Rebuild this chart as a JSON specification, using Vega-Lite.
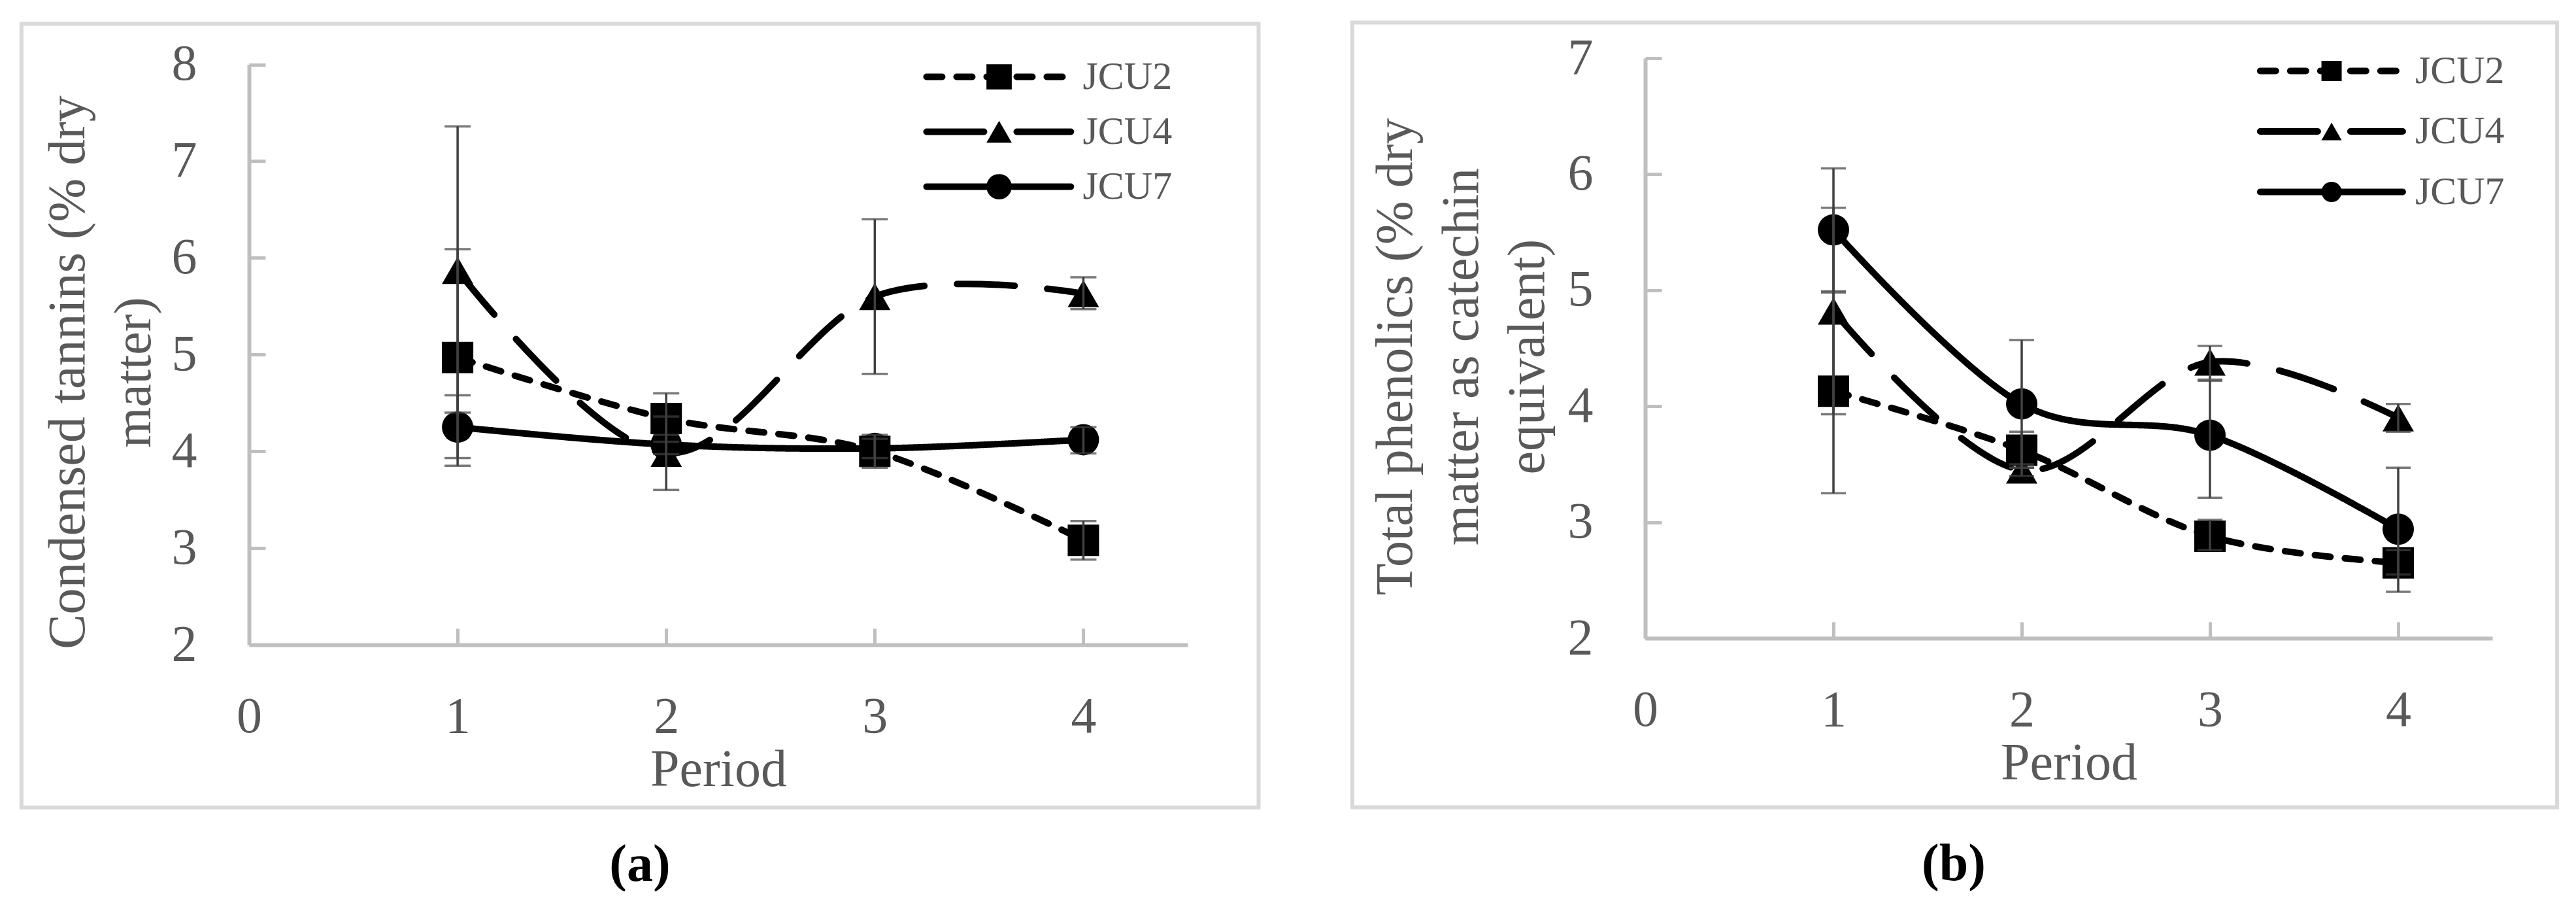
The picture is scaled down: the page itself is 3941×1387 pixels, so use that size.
{
  "$schema": "https://vega.github.io/schema/vega-lite/v6.json",
  "background": "white",
  "padding": {"left": 29, "top": 31, "right": 0, "bottom": 0},
  "spacing": 136,
  "config": {
    "view": {"stroke": null},
    "axis": {
      "grid": false,
      "domainColor": "#bfbfbf",
      "domainWidth": 6,
      "tickColor": "#bfbfbf",
      "tickWidth": 5,
      "tickSize": -25,
      "labelFont": "Liberation Serif",
      "labelFontSize": 78,
      "labelColor": "#595959",
      "labelFlush": false,
      "labelOverlap": false,
      "titleFont": "Liberation Serif",
      "titleFontSize": 80,
      "titleFontWeight": "normal",
      "titleColor": "#595959",
      "titleLineHeight": 101
    },
    "axisX": {"labelPadding": 96, "titlePadding": 3},
    "axisY": {"labelPadding": 105, "titlePadding": 17},
    "title": {"font": "Liberation Serif", "fontSize": 80, "fontWeight": "bold", "color": "black", "orient": "bottom", "offset": 46, "anchor": "middle", "frame": "group"}
  },
  "datasets": {
    "tannins": [
      {"series": "JCU2", "period": 1, "value": 4.97, "lo": 3.85, "hi": 6.09},
      {"series": "JCU2", "period": 2, "value": 4.34, "lo": 4.10, "hi": 4.60},
      {"series": "JCU2", "period": 3, "value": 4.00, "lo": 3.83, "hi": 4.17},
      {"series": "JCU2", "period": 4, "value": 3.08, "lo": 2.88, "hi": 3.28},
      {"series": "JCU4", "period": 1, "value": 5.87, "lo": 4.40, "hi": 7.36},
      {"series": "JCU4", "period": 2, "value": 3.98, "lo": 3.60, "hi": 4.36},
      {"series": "JCU4", "period": 3, "value": 5.60, "lo": 4.80, "hi": 6.40},
      {"series": "JCU4", "period": 4, "value": 5.63, "lo": 5.47, "hi": 5.80},
      {"series": "JCU7", "period": 1, "value": 4.25, "lo": 3.93, "hi": 4.58},
      {"series": "JCU7", "period": 2, "value": 4.07, "lo": 3.97, "hi": 4.17},
      {"series": "JCU7", "period": 3, "value": 4.03, "lo": 3.93, "hi": 4.13},
      {"series": "JCU7", "period": 4, "value": 4.12, "lo": 3.98, "hi": 4.25}
    ],
    "phenolics": [
      {"series": "JCU2", "period": 1, "value": 4.13, "lo": 3.25, "hi": 4.99},
      {"series": "JCU2", "period": 2, "value": 3.62, "lo": 3.47, "hi": 3.78},
      {"series": "JCU2", "period": 3, "value": 2.88, "lo": 2.76, "hi": 3.02},
      {"series": "JCU2", "period": 4, "value": 2.65, "lo": 2.55, "hi": 2.76},
      {"series": "JCU4", "period": 1, "value": 4.82, "lo": 3.93, "hi": 5.71},
      {"series": "JCU4", "period": 2, "value": 3.45, "lo": 3.40, "hi": 3.50},
      {"series": "JCU4", "period": 3, "value": 4.38, "lo": 4.23, "hi": 4.52},
      {"series": "JCU4", "period": 4, "value": 3.90, "lo": 3.78, "hi": 4.02},
      {"series": "JCU7", "period": 1, "value": 5.52, "lo": 4.98, "hi": 6.05},
      {"series": "JCU7", "period": 2, "value": 4.02, "lo": 3.47, "hi": 4.57},
      {"series": "JCU7", "period": 3, "value": 3.75, "lo": 3.21, "hi": 4.22},
      {"series": "JCU7", "period": 4, "value": 2.94, "lo": 2.40, "hi": 3.47}
    ],
    "legend": [
      {"series": "JCU2"},
      {"series": "JCU4"},
      {"series": "JCU7"}
    ]
  },
  "hconcat": [
    {
      "width": 1436,
      "height": 897,
      "title": {"text": "(a)", "dx": -120},
      "resolve": {"scale": {"y": "independent"}},
      "layer": [
        {
          "layer": [
            {
              "data": {"values": [{}]},
              "mark": {"type": "rect", "filled": false, "color": "#d9d9d9", "strokeWidth": 6, "clip": false},
              "encoding": {
                "x": {"datum": -1.091, "type": "quantitative", "title": "Period"},
                "x2": {"datum": 4.840},
                "y": {"datum": 8.42, "type": "quantitative", "title": ["Condensed tannins (% dry", "matter)"]},
                "y2": {"datum": 0.318}
              }
            },
            {
              "data": {"name": "tannins"},
              "mark": {"type": "line", "interpolate": "cardinal", "strokeWidth": 10, "strokeCap": "round", "strokeJoin": "round", "color": "black"},
              "encoding": {
                "x": {"field": "period", "type": "quantitative", "title": "Period",
                      "scale": {"domain": [0, 4.5], "nice": false, "zero": false},
                      "axis": {"values": [0, 1, 2, 3, 4], "format": "d"}},
                "y": {"field": "value", "type": "quantitative", "title": ["Condensed tannins (% dry", "matter)"],
                      "scale": {"domain": [2, 8], "nice": false, "zero": false, "range": [897, 9.5]},
                      "axis": {"values": [2, 3, 4, 5, 6, 7, 8], "format": "d", "titleX": -236, "titleY": 480}},
                "strokeDash": {"field": "series", "type": "nominal",
                               "scale": {"domain": ["JCU2", "JCU4", "JCU7"], "range": [[24, 22], [88, 50], [1, 0]]},
                               "legend": null}
              }
            },
            {
              "data": {"name": "tannins"},
              "mark": {"type": "point", "filled": true, "color": "black", "opacity": 1},
              "encoding": {
                "x": {"field": "period", "type": "quantitative", "title": "Period"},
                "y": {"field": "value", "type": "quantitative", "title": ["Condensed tannins (% dry", "matter)"]},
                "shape": {"field": "series", "type": "nominal",
                          "scale": {"domain": ["JCU2", "JCU4", "JCU7"], "range": ["square", "triangle-up", "circle"]},
                          "legend": null},
                "size": {"field": "series", "type": "ordinal",
                         "scale": {"domain": ["JCU2", "JCU4", "JCU7"], "range": [2304, 2304, 1764]},
                         "legend": null}
              }
            },
            {
              "data": {"name": "tannins"},
              "mark": {"type": "errorbar", "ticks": {"size": 40, "thickness": 3.5, "color": "#404040"}, "rule": {"strokeWidth": 3.5, "color": "#404040"}},
              "encoding": {
                "x": {"field": "period", "type": "quantitative", "title": "Period"},
                "y": {"field": "lo", "type": "quantitative", "title": ["Condensed tannins (% dry", "matter)"]},
                "y2": {"field": "hi"}
              }
            }
          ]
        },
        {
          "data": {"name": "legend"},
          "encoding": {
            "y": {"field": "series", "type": "nominal",
                  "scale": {"type": "point", "domain": ["JCU2", "JCU4", "JCU7"], "range": [28.5, 196.5], "padding": 0},
                  "axis": null}
          },
          "layer": [
            {
              "mark": {"type": "rule", "strokeWidth": 10, "strokeCap": "round", "color": "black"},
              "encoding": {
                "x": {"datum": 3.248, "type": "quantitative"},
                "x2": {"datum": 3.940},
                "strokeDash": {"field": "series", "type": "nominal", "legend": null}
              }
            },
            {
              "mark": {"type": "point", "filled": true, "color": "black", "opacity": 1, "size": 1500},
              "encoding": {
                "x": {"datum": 3.596, "type": "quantitative"},
                "shape": {"field": "series", "type": "nominal", "legend": null}
              }
            },
            {
              "mark": {"type": "text", "align": "left", "baseline": "middle", "font": "Liberation Serif", "fontSize": 60, "color": "#595959"},
              "encoding": {
                "x": {"datum": 3.997, "type": "quantitative"},
                "text": {"field": "series"}
              }
            }
          ]
        }
      ]
    },
    {
      "width": 1296,
      "height": 887,
      "title": {"text": "(b)", "dx": -176},
      "resolve": {"scale": {"y": "independent"}},
      "layer": [
        {
          "layer": [
            {
              "data": {"values": [{}]},
              "mark": {"type": "rect", "filled": false, "color": "#d9d9d9", "strokeWidth": 6, "clip": false},
              "encoding": {
                "x": {"datum": -1.556, "type": "quantitative", "title": "Period"},
                "x2": {"datum": 4.844},
                "y": {"datum": 7.307, "type": "quantitative", "title": ["Total phenolics (% dry", "matter as catechin", "equivalent)"]},
                "y2": {"datum": 0.543}
              }
            },
            {
              "data": {"name": "phenolics"},
              "mark": {"type": "line", "interpolate": "cardinal", "strokeWidth": 10, "strokeCap": "round", "strokeJoin": "round", "color": "black"},
              "encoding": {
                "x": {"field": "period", "type": "quantitative", "title": "Period",
                      "scale": {"domain": [0, 4.5], "nice": false, "zero": false},
                      "axis": {"values": [0, 1, 2, 3, 4], "format": "d"}},
                "y": {"field": "value", "type": "quantitative", "title": ["Total phenolics (% dry", "matter as catechin", "equivalent)"],
                      "scale": {"domain": [2, 7], "nice": false, "zero": false, "range": [887, 0]},
                      "axis": {"values": [2, 3, 4, 5, 6, 7], "format": "d", "titleX": -341, "titleY": 456}},
                "strokeDash": {"field": "series", "type": "nominal",
                               "scale": {"domain": ["JCU2", "JCU4", "JCU7"], "range": [[26, 23], [82, 47], [1, 0]]},
                               "legend": null}
              }
            },
            {
              "data": {"name": "phenolics"},
              "mark": {"type": "point", "filled": true, "color": "black", "opacity": 1},
              "encoding": {
                "x": {"field": "period", "type": "quantitative", "title": "Period"},
                "y": {"field": "value", "type": "quantitative", "title": ["Total phenolics (% dry", "matter as catechin", "equivalent)"]},
                "shape": {"field": "series", "type": "nominal",
                          "scale": {"domain": ["JCU2", "JCU4", "JCU7"], "range": ["square", "triangle-up", "circle"]},
                          "legend": null},
                "size": {"field": "series", "type": "ordinal",
                         "scale": {"domain": ["JCU2", "JCU4", "JCU7"], "range": [1369, 1444, 1600]},
                         "legend": null}
              }
            },
            {
              "data": {"name": "phenolics"},
              "mark": {"type": "errorbar", "ticks": {"size": 38, "thickness": 3.5, "color": "#404040"}, "rule": {"strokeWidth": 3.5, "color": "#404040"}},
              "encoding": {
                "x": {"field": "period", "type": "quantitative", "title": "Period"},
                "y": {"field": "lo", "type": "quantitative", "title": ["Total phenolics (% dry", "matter as catechin", "equivalent)"]},
                "y2": {"field": "hi"}
              }
            }
          ]
        },
        {
          "data": {"name": "legend"},
          "encoding": {
            "y": {"field": "series", "type": "nominal",
                  "scale": {"type": "point", "domain": ["JCU2", "JCU4", "JCU7"], "range": [19.5, 204.5], "padding": 0},
                  "axis": null}
          },
          "layer": [
            {
              "mark": {"type": "rule", "strokeWidth": 10, "strokeCap": "round", "color": "black"},
              "encoding": {
                "x": {"datum": 3.267, "type": "quantitative"},
                "x2": {"datum": 4.024},
                "strokeDash": {"field": "series", "type": "nominal", "legend": null}
              }
            },
            {
              "mark": {"type": "point", "filled": true, "color": "black", "opacity": 1, "size": 960},
              "encoding": {
                "x": {"datum": 3.646, "type": "quantitative"},
                "shape": {"field": "series", "type": "nominal", "legend": null}
              }
            },
            {
              "mark": {"type": "text", "align": "left", "baseline": "middle", "font": "Liberation Serif", "fontSize": 60, "color": "#595959"},
              "encoding": {
                "x": {"datum": 4.090, "type": "quantitative"},
                "text": {"field": "series"}
              }
            }
          ]
        }
      ]
    }
  ]
}
